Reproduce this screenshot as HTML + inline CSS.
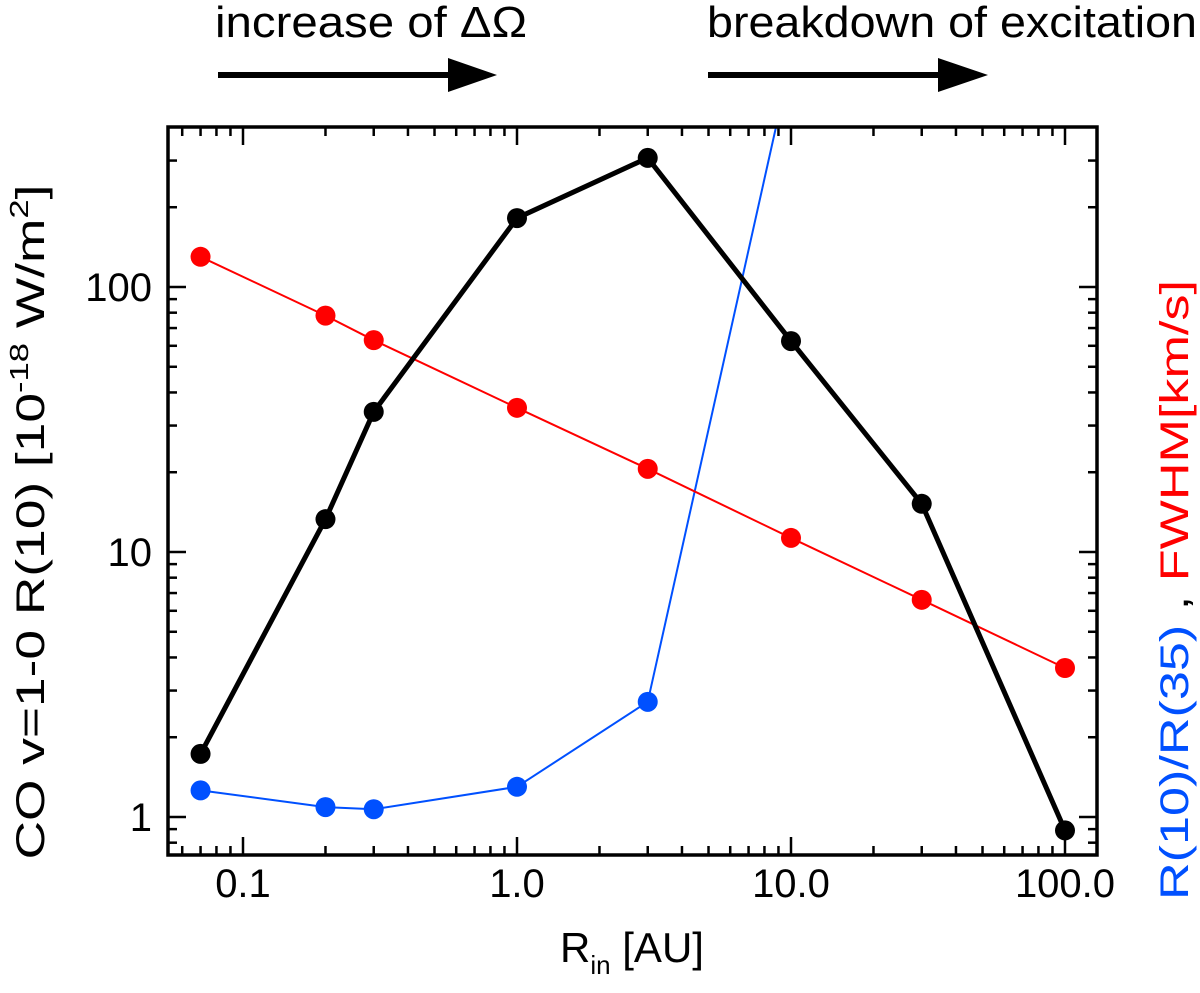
<!DOCTYPE html>
<html><head><meta charset="utf-8"><style>
body{margin:0;background:#fff;}
svg text{font-family:"Liberation Sans",Arial,sans-serif;}
</style></head><body>
<svg id="c" width="1200" height="988" xmlns="http://www.w3.org/2000/svg"></svg>
<script>
const xVals=[0.07,0.2,0.3,1,3,10,30,100];
const blackVals=[1.73,13.3,33.8,182,307,62.5,15.2,0.89];
const redVals=[130,78,63,35,20.6,11.3,6.6,3.65];
const blueX=[0.07,0.2,0.3,1,3];
const blueVals=[1.26,1.09,1.07,1.3,2.72];
const blueTailX=[3,10];
const blueTailVals=[2.72,720];
const xTickVals=[0.1,1,10,100];
const xTickLabels=["0.1","1.0","10.0","100.0"];
const yTickVals=[1,10,100];
const yTickLabels=["1","10","100"];

const NS="http://www.w3.org/2000/svg";
const svg=document.getElementById('c');
const L=168,R=1097,T=127,B=855;
const X=v=>517+274*Math.log10(v);
const Y=v=>817-265*Math.log10(v);
function mk(t,a,p){const e=document.createElementNS(NS,t);for(const k in a)e.setAttribute(k,a[k]);(p||svg).appendChild(e);return e;}

const defs=mk('defs',{});
const cp=mk('clipPath',{id:'clip'},defs);
mk('rect',{x:L,y:T,width:R-L,height:B-T},cp);

const tg=mk('g',{stroke:'#000','stroke-width':2.5});


for(let d=-2;d<=2;d++)for(let m=1;m<=9;m++){
  const v=m*Math.pow(10,d);const x=X(v);if(x<L+1||x>R-1)continue;
  const len=m===1?18:9;
  mk('line',{x1:x,y1:B,x2:x,y2:B-len},tg);mk('line',{x1:x,y1:T,x2:x,y2:T+len},tg);
}
for(let d=-1;d<=2;d++)for(let m=1;m<=9;m++){
  const v=m*Math.pow(10,d);const y=Y(v);if(y<T+1||y>B-1)continue;
  const len=m===1?18:9;
  mk('line',{x1:L,y1:y,x2:L+len,y2:y},tg);mk('line',{x1:R,y1:y,x2:R-len,y2:y},tg);
}
xTickVals.forEach((v,i)=>{const t=mk('text',{x:X(v),y:897,'font-size':40,'text-anchor':'middle'});t.textContent=xTickLabels[i];
});
yTickVals.forEach((v,i)=>{const t=mk('text',{x:152,y:Y(v)+14,'font-size':40,'text-anchor':'end'});t.textContent=yTickLabels[i];
});

function series(xs,ys,color,w,r,name,dots){
  const g=mk('g',{'clip-path':'url(#clip)'});
  
  mk('polyline',{points:xs.map((x,i)=>X(x)+','+Y(ys[i])).join(' '),fill:'none',stroke:color,'stroke-width':w,'stroke-linejoin':'round'},g);
  if(dots)xs.forEach((x,i)=>{const c=mk('circle',{cx:X(x),cy:Y(ys[i]),r:r,fill:color},g);
    });
}
series(blueTailX,blueTailVals,'#0050ff',2,10,'blue-tail',false);
series(blueX,blueVals,'#0050ff',2,10,'ratio-series',true);
series(xVals,redVals,'#ff0000',2,10,'fwhm-series',true);
series(xVals,blackVals,'#000',5,10,'flux-series',true);

const fr=mk('rect',{x:L,y:T,width:R-L,height:B-T,fill:'none',stroke:'#000','stroke-width':3.5});

</script>
<svg width="1200" height="988" style="position:absolute;left:0;top:0" xmlns="http://www.w3.org/2000/svg">
<text x="560" y="962" font-size="42">R<tspan font-size="26" dy="12">in</tspan><tspan dy="-12"> [AU]</tspan></text>
<text transform="translate(44,522) rotate(-90)" text-anchor="middle" font-size="40" textLength="675" lengthAdjust="spacingAndGlyphs">CO v=1-0 R(10) [10<tspan font-size="26" dy="-16">-18</tspan><tspan dy="16"> W/m</tspan><tspan font-size="26" dy="-16">2</tspan><tspan dy="16">]</tspan></text>
<text transform="translate(1188,590) rotate(-90)" text-anchor="middle" font-size="40" textLength="620" lengthAdjust="spacingAndGlyphs"><tspan fill="#0050ff">R(10)/R(35)</tspan><tspan fill="#000"> , </tspan><tspan fill="#ff0000">FWHM[km/s]</tspan></text>
<g>
<text x="215" y="37" font-size="44" textLength="312" lengthAdjust="spacingAndGlyphs">increase of ΔΩ</text>
<line x1="218" y1="75" x2="455" y2="75" stroke="#000" stroke-width="6"/>
<polygon points="448,58 497,75 448,92" fill="#000"/>
</g>
<g>
<text x="707" y="37" font-size="44" textLength="490" lengthAdjust="spacingAndGlyphs">breakdown of excitation</text>
<line x1="708" y1="75" x2="945" y2="75" stroke="#000" stroke-width="6"/>
<polygon points="938,58 988,75 938,92" fill="#000"/>
</g>
</svg>
</body></html>
